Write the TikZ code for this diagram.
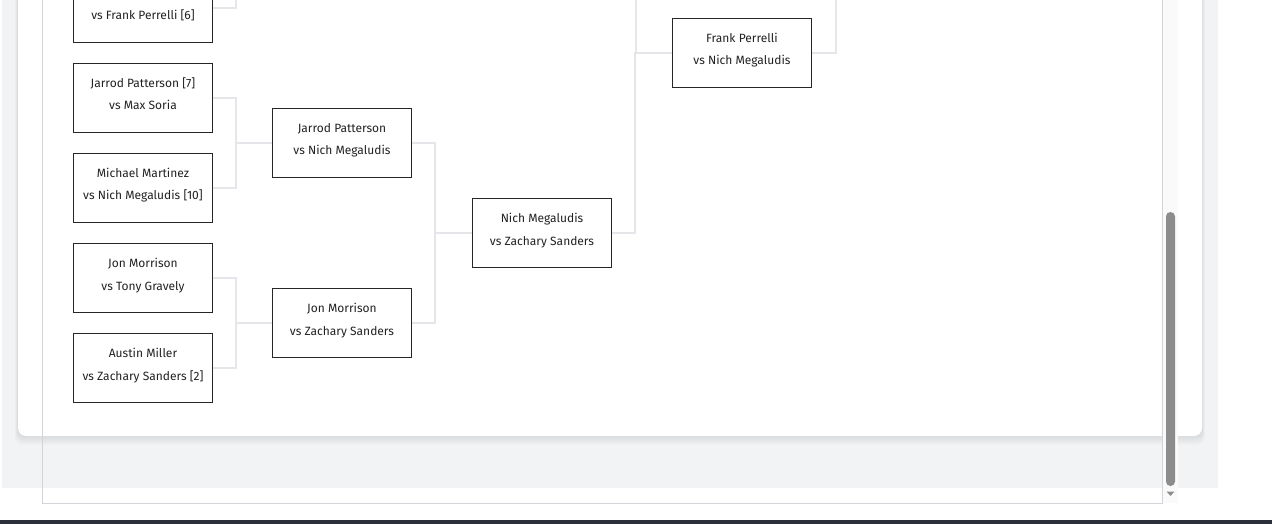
\documentclass[tikz,border=0pt]{standalone}
\usepackage{fontspec}
\setmainfont{Fira Sans}
\definecolor{connc}{HTML}{E4E6EA}
\definecolor{txtc}{HTML}{222222}
\definecolor{pagebg}{HTML}{F2F3F5}
\definecolor{framec}{HTML}{D3D3DA}
\definecolor{thumbc}{HTML}{8C8C8C}
\definecolor{barc}{HTML}{2B2F3A}
\newcommand\matchnode[5]{%
  \node[matchbox] (#1) at (#2,#3) {};
  \node[mtext] (#1-a) at (#2,#3-10.5) {#4};
  \node[mtext] (#1-b) at (#2,#3+12) {#5};}
\begin{document}
\begin{tikzpicture}[x=1pt,y=-1pt,
  conn/.style={draw=connc, line width=1.8pt},
  matchbox/.style={draw=black!85, line width=1pt, fill=white, minimum width=139pt, minimum height=69pt, inner sep=0pt},
  mtext/.style={anchor=base, inner sep=0pt, text=txtc, font=\fontsize{12}{14}\selectfont},
]
\useasboundingbox (0,0) rectangle (1272,524);
\begin{scope}
\clip (0,0) rectangle (1272,524);
% page background
\fill[pagebg] (2,-5) rectangle (1218,488);
% card shadow
\foreach \i in {1,...,8}{
  \fill[black, opacity=0.012, rounded corners=8pt] (18-0.4*\i,-20) rectangle (1202+0.4*\i,436+1.1*\i);
}
% card
\fill[white, rounded corners=8pt] (18,-20) rectangle (1202,436);
% scrollbar track
\fill[white!98!black] (1163,-5) rectangle (1178,503);
% frame
\draw[framec, line width=1pt] (42.5,-5) -- (42.5,503.5) -- (1162.5,503.5) -- (1162.5,-5);
% scrollbar thumb and arrow
\fill[thumbc, rounded corners=4.4pt] (1166,212) rectangle (1175,486);
\fill[thumbc] (1166.5,491.5) -- (1174.5,491.5) -- (1170.5,496) -- cycle;
% bottom bar
\fill[barc] (0,520) rectangle (1272,525);

% matches
\matchnode{m6}{143}{8}{}{vs Frank Perrelli [6]}
\matchnode{m7}{143}{98}{Jarrod Patterson [7]}{vs Max Soria}
\matchnode{m10}{143}{188}{Michael Martinez}{vs Nich Megaludis [10]}
\matchnode{m3}{143}{278}{Jon Morrison}{vs Tony Gravely}
\matchnode{m2}{143}{368}{Austin Miller}{vs Zachary Sanders [2]}
\matchnode{q1}{342}{143}{Jarrod Patterson}{vs Nich Megaludis}
\matchnode{q2}{342}{323}{Jon Morrison}{vs Zachary Sanders}
\matchnode{s1}{542}{233}{Nich Megaludis}{vs Zachary Sanders}
\matchnode{f1}{742}{53}{Frank Perrelli}{vs Nich Megaludis}

% connectors
\coordinate (c1top) at (236,-10);
\coordinate (c3top) at (636,-10);
\coordinate (c4top) at (836,-10);
\draw[conn] (m6.east) -| (c1top);
\draw[conn] (m7.east) -- ++(23,0) |- (q1.west);
\draw[conn] (m10.east) -- ++(23,0) |- (q1.west);
\draw[conn] (m3.east) -- ++(23,0) |- (q2.west);
\draw[conn] (m2.east) -- ++(23,0) |- (q2.west);
\draw[conn] (q1.east) -- ++(23,0) |- (s1.west);
\draw[conn] (q2.east) -- ++(23,0) |- (s1.west);
\draw[conn] (s1.east) -- ++(23,0) |- (f1.west);
\draw[conn] (c3top) |- (f1.west);
\draw[conn] (f1.east) -| (c4top);
\end{scope}
\end{tikzpicture}
\end{document}
